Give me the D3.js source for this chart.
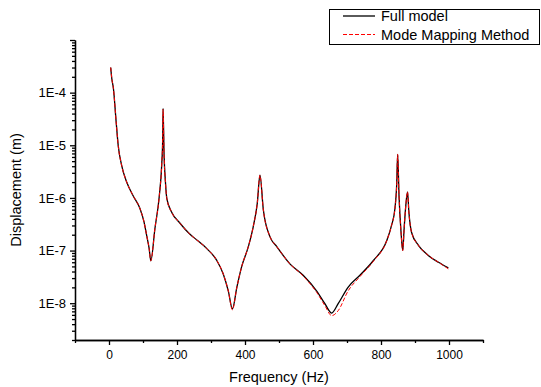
<!DOCTYPE html>
<html>
<head>
<meta charset="utf-8">
<script src="https://cdn.jsdelivr.net/npm/d3@7"></script>
<style>
  body { margin: 0; background: #fff; }
  svg { font-family: "Liberation Sans", Arial, sans-serif; }
</style>
</head>
<body>
<div id="chart"></div>
<script>
// frequency points (Hz)
const freq = [5, 8, 13, 21, 27, 37, 52, 71, 91, 103, 111, 118, 123, 135, 148, 155, 158, 159, 162, 166, 170,
  184, 209, 233, 248, 287, 317, 336, 351, 363, 376, 390, 410, 424, 436, 444, 454, 474, 493, 532, 571,
  611, 635, 655, 674, 703, 738, 777, 817, 831, 841, 846, 849, 853, 859, 864, 868, 873, 878, 882, 890,
  910, 939, 969, 998];

// displacement (m), full model
const fullModel = [3.0e-4, 1.9e-4, 1.2e-4, 2.8e-5, 1.0e-5, 4.2e-6, 2.0e-6, 1.1e-6, 6.3e-7, 3.5e-7, 1.9e-7,
  1.1e-7, 6.4e-8, 2.6e-7, 1.1e-6, 4.2e-6, 1.35e-5, 5.0e-5, 6.5e-6, 2.0e-6, 9.8e-7,
  5.4e-7, 3.3e-7, 2.2e-7, 1.8e-7, 1.1e-7, 6.5e-8, 3.6e-8, 1.7e-8, 7.8e-9, 2.0e-8, 4.9e-8, 1.2e-7, 2.8e-7,
  7.8e-7, 2.7e-6, 5.9e-7, 1.8e-7, 1.2e-7, 5.6e-8, 3.4e-8,
  1.7e-8, 9.8e-9, 6.5e-9, 9.8e-9, 2.0e-8, 3.4e-8, 6.4e-8, 1.55e-7, 3.0e-7, 6.3e-7, 1.7e-6, 6.7e-6, 1.1e-6,
  2.2e-7, 1.0e-7, 2.6e-7, 7.2e-7, 1.3e-6, 5.4e-7, 2.2e-7,
  1.26e-7, 8.1e-8, 6.0e-8, 4.7e-8];

// displacement (m), mode mapping method
const modeMapping = [3.0e-4, 1.9e-4, 1.2e-4, 2.8e-5, 1.0e-5, 4.2e-6, 2.0e-6, 1.1e-6, 6.3e-7, 3.5e-7, 1.9e-7,
  1.1e-7, 6.4e-8, 2.6e-7, 1.1e-6, 4.2e-6, 1.4e-5, 4.8e-5, 6.5e-6, 2.0e-6, 9.8e-7,
  5.4e-7, 3.3e-7, 2.2e-7, 1.8e-7, 1.1e-7, 6.5e-8, 3.6e-8, 1.7e-8, 7.5e-9, 2.0e-8, 4.9e-8, 1.2e-7, 2.8e-7,
  7.8e-7, 2.7e-6, 5.9e-7, 1.8e-7, 1.2e-7, 5.6e-8, 3.3e-8,
  1.6e-8, 9.0e-9, 5.8e-9, 7.2e-9, 1.7e-8, 3.2e-8, 6.2e-8, 1.55e-7, 3.0e-7, 6.3e-7, 1.7e-6, 6.7e-6, 1.1e-6,
  2.2e-7, 1.0e-7, 2.6e-7, 7.2e-7, 1.3e-6, 5.4e-7, 2.2e-7,
  1.26e-7, 8.1e-8, 6.0e-8, 4.5e-8];

const xMajorTicks = [0, 200, 400, 600, 800, 1000];
const xMinorTicks = [-100, 100, 300, 500, 700, 900, 1100];
const yDecades = [-8, -7, -6, -5, -4];

const legendLabels = ["Full model", "Mode Mapping Method"];

const width = 541, height = 387;
const margin = {top: 40, right: 58, bottom: 47, left: 75};

const svg = d3.select('#chart').append('svg')
  .attr('width', width)
  .attr('height', height);

const x = d3.scaleLinear().domain([-100, 1100]).range([margin.left, width - margin.right]);
const y = d3.scaleLog().domain([2e-9, 1e-3]).range([height - margin.bottom, margin.top]);

// y minor ticks: 2..9 per decade
const yMinor = [];
for (let e = -9; e <= -4; e++) {
  for (let m = 2; m <= 9; m++) {
    const v = m * Math.pow(10, e);
    if (v >= 2e-9 && v <= 1e-3) yMinor.push(v);
  }
}
const yMajor = yDecades.map(e => Math.pow(10, e)).concat([1e-3]);

function styleAxis(g, size) {
  g.selectAll('path, line').attr('stroke', '#000').attr('stroke-width', 1.3);
  g.selectAll('text').attr('fill', '#000').style('font-size', size || '12px')
    .style('font-family', '"Liberation Sans", Arial, sans-serif');
}

// x axis
svg.append('g')
  .attr('transform', `translate(0,${height - margin.bottom})`)
  .call(d3.axisBottom(x).tickValues(xMinorTicks).tickSize(3).tickSizeOuter(0).tickFormat(''))
  .call(styleAxis);
svg.append('g')
  .attr('transform', `translate(0,${height - margin.bottom})`)
  .call(d3.axisBottom(x).tickValues(xMajorTicks).tickSize(5).tickSizeOuter(0).tickPadding(5)
    .tickFormat(d3.format('d')))
  .call(styleAxis, '12px');

// y axis
svg.append('g')
  .attr('transform', `translate(${margin.left},0)`)
  .call(d3.axisLeft(y).tickValues(yMinor).tickSize(3).tickSizeOuter(0).tickFormat(''))
  .call(styleAxis);
svg.append('g')
  .attr('transform', `translate(${margin.left},0)`)
  .call(d3.axisLeft(y).tickValues(yMajor).tickSize(5).tickSizeOuter(0).tickPadding(4)
    .tickFormat(d => d >= 1e-3 ? '' : '1E' + Math.round(Math.log10(d))))
  .call(styleAxis, '13px');

// axis titles
svg.append('text')
  .attr('x', (x(-100) + x(1100)) / 2)
  .attr('y', 382)
  .attr('text-anchor', 'middle')
  .style('font-size', '14.5px')
  .text('Frequency (Hz)');

svg.append('text')
  .attr('transform', `translate(21,${(y(2e-9) + y(1e-3)) / 2}) rotate(-90)`)
  .attr('text-anchor', 'middle')
  .style('font-size', '14.5px')
  .text('Displacement (m)');

// lines
const line = vals => d3.line()
  .x((d, i) => x(freq[i]))
  .y(d => y(d))
  .curve(d3.curveMonotoneX)(vals);

svg.append('path')
  .attr('d', line(fullModel))
  .attr('fill', 'none')
  .attr('stroke', '#000')
  .attr('stroke-width', 1.3);

svg.append('path')
  .attr('d', line(modeMapping))
  .attr('fill', 'none')
  .attr('stroke', '#ff0000')
  .attr('stroke-width', 1)
  .attr('stroke-dasharray', '4,2');

// legend
const legend = svg.append('g').attr('class', 'legend');
legend.append('rect')
  .attr('x', 329.5).attr('y', 9.5)
  .attr('width', 210).attr('height', 35)
  .attr('fill', '#fff').attr('stroke', '#000').attr('stroke-width', 1);

const legendItems = legend.selectAll('.legend-item')
  .data(legendLabels)
  .enter().append('g')
  .attr('class', 'legend-item')
  .attr('transform', (d, i) => `translate(0, ${16 + i * 18.5})`);

legendItems.append('line')
  .attr('x1', 343).attr('x2', 375)
  .attr('stroke', (d, i) => i === 0 ? '#000' : '#ff0000')
  .attr('stroke-width', (d, i) => i === 0 ? 1.3 : 1)
  .attr('stroke-dasharray', (d, i) => i === 0 ? null : '4,2');

legendItems.append('text')
  .attr('x', 381)
  .attr('dy', '0.35em')
  .style('font-size', '14.5px')
  .text(d => d);
</script>
</body>
</html>
